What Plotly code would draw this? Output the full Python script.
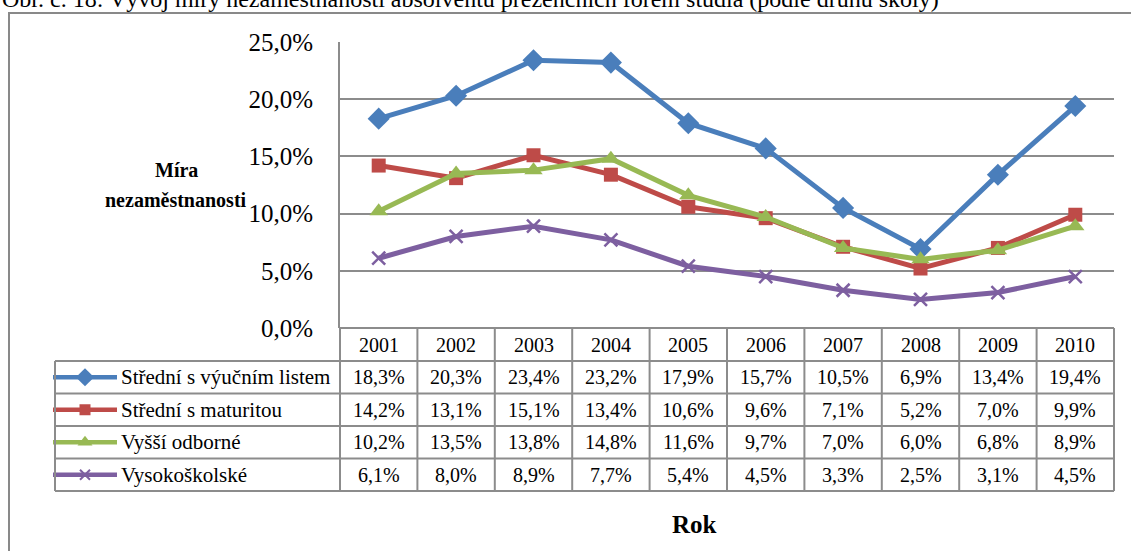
import plotly.graph_objects as go

W, H = 1131, 551

YEARS = [2001, 2002, 2003, 2004, 2005, 2006, 2007, 2008, 2009, 2010]
SERIES_NAMES = ["Střední s výučním listem", "Střední s maturitou", "Vyšší odborné", "Vysokoškolské"]
VYUCNI = [18.3, 20.3, 23.4, 23.2, 17.9, 15.7, 10.5, 6.9, 13.4, 19.4]
MATURITA = [14.2, 13.1, 15.1, 13.4, 10.6, 9.6, 7.1, 5.2, 7.0, 9.9]
VYSSI_ODB = [10.2, 13.5, 13.8, 14.8, 11.6, 9.7, 7.0, 6.0, 6.8, 8.9]
VYSOKOSKOL = [6.1, 8.0, 8.9, 7.7, 5.4, 4.5, 3.3, 2.5, 3.1, 4.5]
Y_TICKS = [0, 5, 10, 15, 20, 25]

SERIES = [VYUCNI, MATURITA, VYSSI_ODB, VYSOKOSKOL]
COLORS = ["#4A7EBB", "#BE4B48", "#98B954", "#7D5FA0"]
SYMBOLS = ["diamond", "square", "triangle-up", "x-thin"]
SIZES = [17, 14, 16, 13]

FONT = "Liberation Serif"
GRID = "#8C8C8C"
INK = "#000000"

# pixel geometry of the Excel-like chart
X0, X1 = 340, 1114          # plot area left / right
TOP, BASE = 42, 328         # 25 % line / 0 % line
HDR_BOTTOM = 361            # bottom of the year header row
ROW_H = 32.5
LBL_LEFT = 55
COL_W = (X1 - X0) / len(YEARS)


def fmt(v):
    return f"{v:.1f}".replace(".", ",") + "%"


def txt(size):
    return dict(family=FONT, size=size, color=INK)


fig = go.Figure()

for name, vals, col, sym, size in zip(SERIES_NAMES, SERIES, COLORS, SYMBOLS, SIZES):
    mk = dict(symbol=sym, size=size, color=col)
    if sym == "x-thin":
        mk["line"] = dict(color=col, width=2.5)
    fig.add_trace(go.Scatter(
        x=list(range(len(YEARS))), y=vals, mode="lines+markers", name=name,
        line=dict(color=col, width=5), marker=mk, showlegend=False,
        xaxis="x", yaxis="y",
    ))

# legend keys inside the data table (pixel overlay axes)
shapes = []
annotations = []
for i, (name, col, sym, size) in enumerate(zip(SERIES_NAMES, COLORS, SYMBOLS, SIZES)):
    yc = HDR_BOTTOM + ROW_H * (i + 0.5)
    mk = dict(symbol=sym, size=size - 3, color=col)
    if sym == "x-thin":
        mk["line"] = dict(color=col, width=2)
    fig.add_trace(go.Scatter(
        x=[53, 117], y=[yc, yc], mode="lines", line=dict(color=col, width=4.5),
        showlegend=False, hoverinfo="skip", xaxis="x2", yaxis="y2",
    ))
    fig.add_trace(go.Scatter(
        x=[85], y=[yc], mode="markers", marker=mk,
        showlegend=False, hoverinfo="skip", xaxis="x2", yaxis="y2",
    ))
    annotations.append(dict(x=119, y=yc, xref="x2", yref="y2", text=name, showarrow=False,
                            xanchor="left", yanchor="middle", font=txt(21)))
    for j, v in enumerate(SERIES[i]):
        annotations.append(dict(x=X0 + COL_W * (j + 0.5), y=yc, xref="x2", yref="y2", text=fmt(v),
                                showarrow=False, font=txt(20)))

for j, yr in enumerate(YEARS):
    annotations.append(dict(x=X0 + COL_W * (j + 0.5), y=(BASE + HDR_BOTTOM) / 2, xref="x2", yref="y2",
                            text=str(yr), showarrow=False, font=txt(20)))

tbl_bottom = HDR_BOTTOM + ROW_H * len(SERIES_NAMES)
line = dict(color=GRID, width=2)
for k in range(len(YEARS) + 1):
    xk = X0 + COL_W * k
    shapes.append(dict(type="line", xref="x2", yref="y2", x0=xk, x1=xk, y0=BASE, y1=tbl_bottom, line=line))
for r in range(len(SERIES_NAMES) + 1):
    yr_ = HDR_BOTTOM + ROW_H * r
    shapes.append(dict(type="line", xref="x2", yref="y2", x0=LBL_LEFT, x1=X1, y0=yr_, y1=yr_, line=line))
shapes.append(dict(type="line", xref="x2", yref="y2", x0=LBL_LEFT, x1=LBL_LEFT, y0=HDR_BOTTOM, y1=tbl_bottom, line=line))
shapes.append(dict(type="line", xref="x2", yref="y2", x0=X0, x1=X1, y0=BASE, y1=BASE, line=line))
# outer chart border (only left and top visible)
shapes.append(dict(type="rect", xref="x2", yref="y2", x0=9, x1=1140, y0=13, y1=560,
                   line=dict(color="#898989", width=2), layer="below"))

# axis titles
annotations.append(dict(x=176, y=170, xref="x2", yref="y2", text="<b>Míra</b>", showarrow=False,
                        font=txt(20)))
annotations.append(dict(x=176, y=200, xref="x2", yref="y2", text="<b>nezaměstnanosti</b>", showarrow=False,
                        font=txt(20)))
annotations.append(dict(x=694, y=524, xref="x2", yref="y2", text="<b>Rok</b>", showarrow=False,
                        font=txt(25)))
# clipped figure caption above the chart
annotations.append(dict(x=0, y=1 + 1 / H, xref="paper", yref="paper", xanchor="left", yanchor="middle",
                        text="Obr. č. 18: Vývoj míry nezaměstnanosti absolventů prezenčních forem studia (podle druhu školy)",
                        showarrow=False, font=txt(24)))

fig.update_layout(
    width=W, height=H, autosize=False,
    margin=dict(l=0, r=0, t=0, b=0, pad=0),
    paper_bgcolor="white", plot_bgcolor="rgba(0,0,0,0)",
    font=dict(family=FONT, color=INK),
    xaxis=dict(domain=[X0 / W, X1 / W], range=[-0.5, len(YEARS) - 0.5], showticklabels=False,
               showgrid=False, zeroline=False, showline=False, fixedrange=True, automargin=False),
    yaxis=dict(domain=[1 - BASE / H, 1 - TOP / H], range=[0, 25], tickvals=Y_TICKS,
               ticktext=[fmt(v) for v in Y_TICKS], tickfont=txt(25),
               showgrid=True, gridcolor=GRID, gridwidth=1.5, zeroline=False,
               showline=True, linecolor=GRID, linewidth=2, ticks="outside", ticklen=20,
               tickcolor="rgba(0,0,0,0)", fixedrange=True, automargin=False),
    xaxis2=dict(domain=[0, 1], range=[0, W], visible=False, fixedrange=True, anchor="y2", automargin=False),
    yaxis2=dict(domain=[0, 1], range=[H, 0], visible=False, fixedrange=True, anchor="x2", automargin=False),
    shapes=shapes,
    annotations=annotations,
)

fig.write_html("out.html", config={"displayModeBar": False},
               post_script="document.body.style.margin='0';document.body.style.overflow='hidden';")
